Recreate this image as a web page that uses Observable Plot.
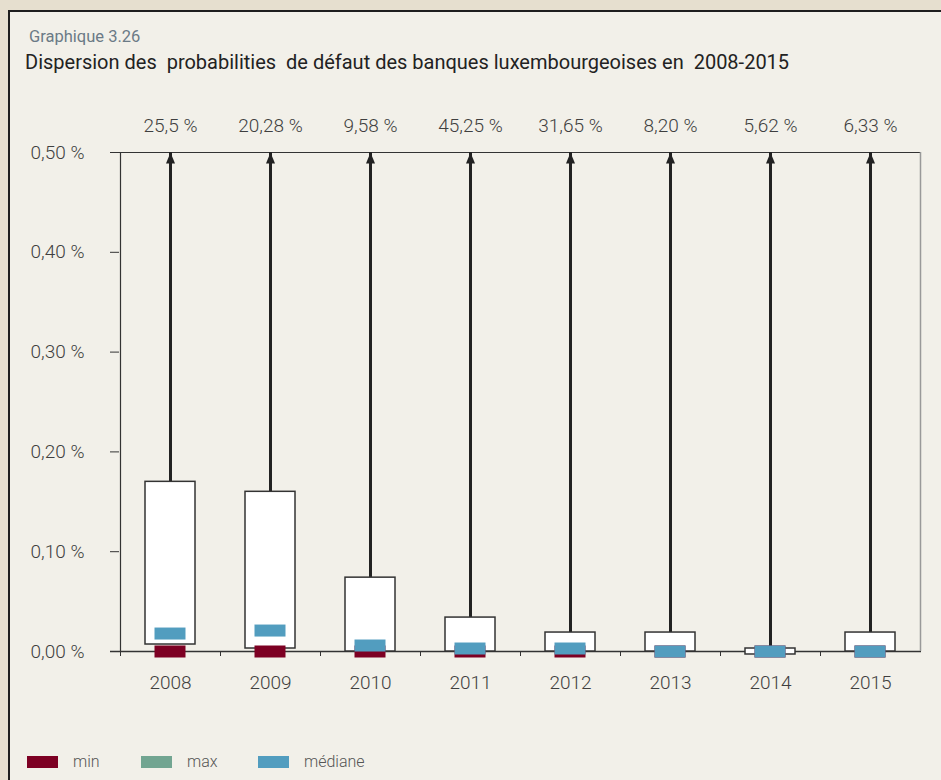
<!DOCTYPE html>
<html>
<head>
<meta charset="utf-8">
<script src="https://cdn.jsdelivr.net/npm/d3@7"></script>
<script src="https://cdn.jsdelivr.net/npm/@observablehq/plot@0.6"></script>
<style>
  html, body { margin: 0; padding: 0; }
  body { width: 941px; height: 780px; overflow: hidden; background: #e6dfcf; position: relative; font-family: Roboto, "DejaVu Sans", sans-serif; font-weight: 300; }
  #panel { position: absolute; left: 8px; top: 10px; width: 960px; height: 800px; border-left: 2px solid #1e1e1e; border-top: 2px solid #1e1e1e; background: #f2f0e9; }
  #kicker { position: absolute; left: 29px; top: 27px; font-size: 16.5px; line-height: 20px; color: #6b7a86; font-weight: 400; white-space: pre; }
  #title { position: absolute; left: 25px; top: 49px; font-size: 20px; line-height: 26px; color: #222; font-weight: 400; white-space: pre; }
  #chart { position: absolute; left: 0; top: 80px; }
  #legend { position: absolute; left: 0; top: 752px; width: 941px; height: 20px; font-size: 16px; color: #555; }
  .sw { position: absolute; top: 4px; width: 31px; height: 12px; }
  .lb { position: absolute; top: 0px; line-height: 20px; }
</style>
</head>
<body>
<div id="panel"></div>
<div id="kicker">Graphique 3.26</div>
<div id="title">Dispersion des  probabilities  de défaut des banques luxembourgeoises en  2008-2015</div>
<div id="chart"></div>
<div id="legend"></div>
<script>
// ---- data ----
const years = ["2008", "2009", "2010", "2011", "2012", "2013", "2014", "2015"];
const q1Values = [0.007, 0.003, 0.000, 0.000, 0.000, 0.000, -0.003, 0.000];
const q3Values = [0.170, 0.160, 0.074, 0.034, 0.019, 0.019, 0.003, 0.019];
const medianValues = [0.018, 0.021, 0.006, 0.003, 0.003, 0.000, 0.000, 0.000];
const minValues = [0, 0, 0, 0, 0, 0, 0, 0];
const maxValues = [25.5, 20.28, 9.58, 45.25, 31.65, 8.20, 5.62, 6.33];
const maxLabels = ["25,5 %", "20,28 %", "9,58 %", "45,25 %", "31,65 %", "8,20 %", "5,62 %", "6,33 %"];
const yTicks = [0, 0.1, 0.2, 0.3, 0.4, 0.5];
const yTickLabels = ["0,00 %", "0,10 %", "0,20 %", "0,30 %", "0,40 %", "0,50 %"];
const legendItems = ["min", "max", "médiane"];
const legendColors = ["#7d0023", "#72a591", "#529dbf"];

const yTop = d3.max(yTicks);
const rows = years.map((year, i) => ({
  year, q1: q1Values[i], q3: q3Values[i], median: medianValues[i],
  min: minValues[i], max: maxValues[i], label: maxLabels[i],
  maxShown: Math.min(maxValues[i], yTop)
}));

const triangle = {
  draw(context) {
    context.moveTo(0, 0);
    context.lineTo(4.5, 11);
    context.lineTo(-4.5, 11);
    context.closePath();
  }
};

const txt = "#3f3f3f";
const chart = Plot.plot({
  width: 941,
  height: 630,
  marginLeft: 119,
  marginRight: 20,
  marginTop: 72,
  marginBottom: 59,
  style: { fontFamily: "Roboto, 'DejaVu Sans', sans-serif", fontWeight: 300, fontSize: "19px", background: "transparent", color: txt },
  x: { type: "band", domain: years, padding: 0, label: null },
  y: { domain: [0, yTop], label: null },
  marks: [
    Plot.axisY({ ticks: yTicks, tickFormat: (d, i) => yTickLabels[i], tickSize: 9, tickPadding: 26, stroke: "#333", fill: txt, fontSize: 19, label: null }),
    Plot.axisX({ tickSize: 0, tickPadding: 24, fill: txt, fontSize: 19, label: null }),
    Plot.ruleY([yTop], { stroke: "#333", strokeWidth: 1.2, insetLeft: -9 }),
    Plot.ruleY([0], { stroke: "#333", strokeWidth: 1.5, insetLeft: -9 }),
    Plot.ruleX([years[0]], { dx: -50, stroke: "#333", strokeWidth: 1.2 }),
    Plot.ruleX([years[years.length - 1]], { dx: 50, stroke: "#999", strokeWidth: 1.5 }),
    Plot.ruleX(years, { dx: -50, y1: 0, y2: 0, insetBottom: -5, stroke: "#333", strokeWidth: 1 }),
    Plot.ruleX(rows, { x: "year", y1: "q3", y2: "maxShown", stroke: "#222", strokeWidth: 3 }),
    Plot.barY(rows, { x: "year", y1: "q1", y2: "q3", fill: "#ffffff", stroke: "#333", strokeWidth: 1.5, insetLeft: 25, insetRight: 25 }),
    Plot.tickY(rows, { x: "year", y: "min", stroke: legendColors[0], strokeWidth: 12, insetLeft: 34.5, insetRight: 34.5 }),
    Plot.tickY(rows, { x: "year", y: "median", stroke: legendColors[2], strokeWidth: 12, insetLeft: 34.5, insetRight: 34.5 }),
    Plot.dot(rows, { x: "year", y: "maxShown", symbol: triangle, fill: "#222", stroke: "none", r: 5 }),
    Plot.text(rows, { x: "year", y: "maxShown", text: "label", dy: -27, fill: txt, fontSize: 19 })
  ]
});
document.getElementById("chart").appendChild(chart);

// legend
const legend = document.getElementById("legend");
const swX = [27, 141, 258];
const lbX = [73, 187, 304];
legendItems.forEach((name, i) => {
  const sw = document.createElement("div");
  sw.className = "sw"; sw.style.left = swX[i] + "px"; sw.style.background = legendColors[i];
  const lb = document.createElement("div");
  lb.className = "lb"; lb.style.left = lbX[i] + "px"; lb.textContent = name;
  legend.appendChild(sw); legend.appendChild(lb);
});
</script>
</body>
</html>
